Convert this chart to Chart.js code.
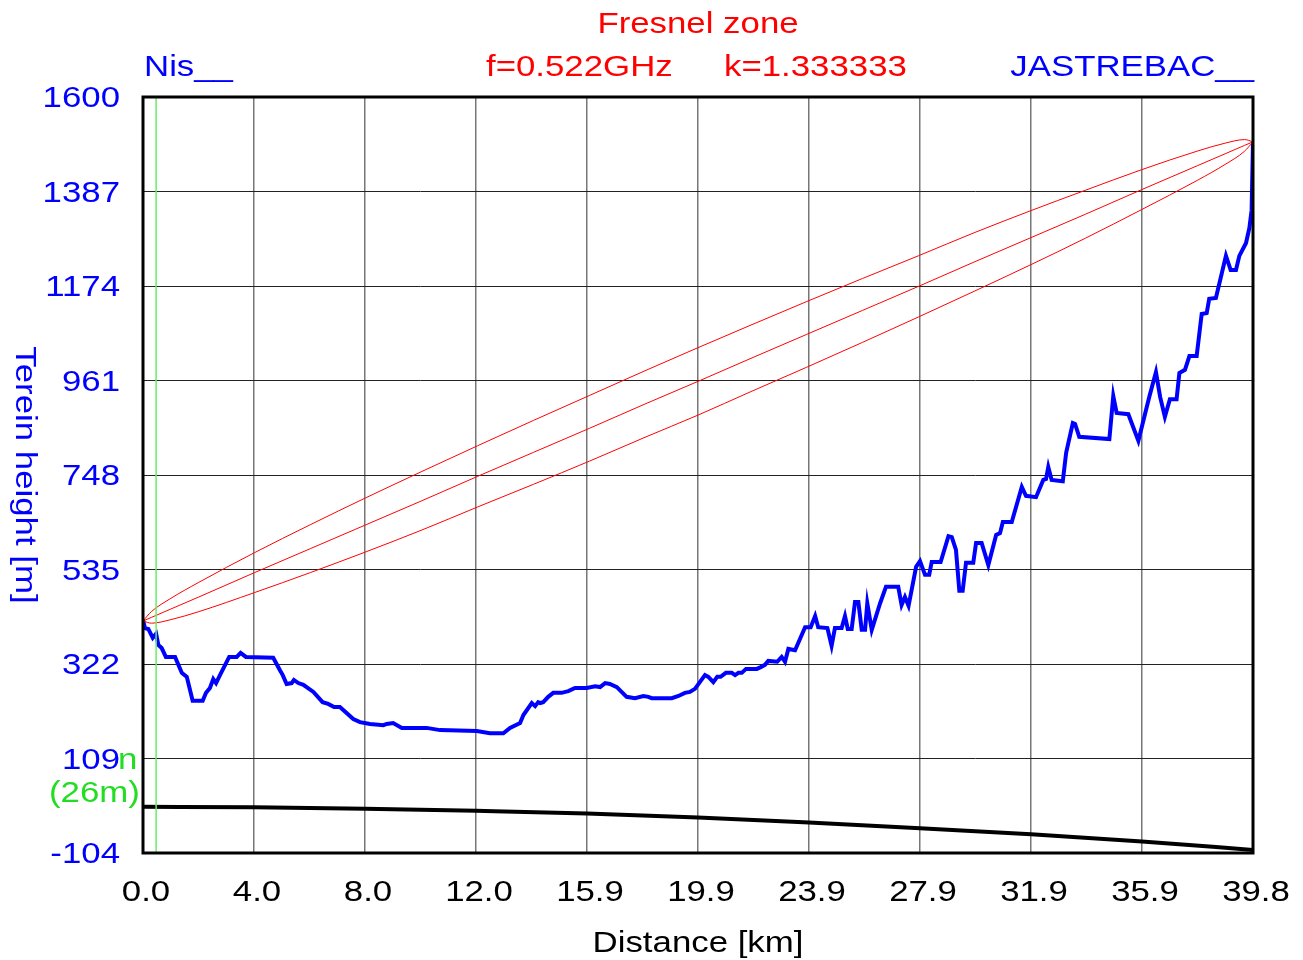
<!DOCTYPE html>
<html>
<head>
<meta charset="utf-8">
<script src="https://cdn.jsdelivr.net/npm/chart.js@4"></script>
<style>
  body { margin: 0; background: #fff; }
  #wrap { width: 1303px; height: 960px; }
</style>
</head>
<body>
<div id="wrap"><canvas id="profileChart" width="1303" height="960"></canvas></div>
<script>
// terrain profile (km, m)
const terrainKm = [0, 0.07, 0.19, 0.35, 0.47, 0.55, 0.67, 0.82, 1.15, 1.39, 1.57, 1.78, 2.14, 2.26, 2.40, 2.52, 2.62, 2.76, 3.09, 3.36, 3.50, 3.69, 4.67, 4.91, 5.01, 5.15, 5.33, 5.41, 5.57, 5.75, 6.11, 6.44, 6.64, 6.85, 7.06, 7.54, 7.78, 8.14, 8.62, 8.74, 8.97, 9.28, 10.17, 10.65, 11.97, 12.44, 12.92, 13.16, 13.52, 13.64, 13.94, 14.06, 14.17, 14.24, 14.35, 14.53, 14.71, 15.01, 15.25, 15.49, 15.91, 16.21, 16.39, 16.57, 16.74, 16.99, 17.34, 17.64, 17.94, 18.12, 18.24, 18.96, 19.20, 19.43, 19.61, 19.79, 20.15, 20.27, 20.45, 20.59, 20.71, 20.90, 21.11, 21.23, 21.35, 21.47, 21.62, 22.01, 22.15, 22.30, 22.42, 22.74, 22.90, 23.02, 23.14, 23.38, 23.74, 23.94, 24.10, 24.21, 24.54, 24.69, 24.81, 25.05, 25.17, 25.27, 25.41, 25.53, 25.65, 25.77, 25.89, 25.97, 26.13, 26.43, 26.64, 27.08, 27.20, 27.32, 27.45, 27.72, 27.86, 28.04, 28.19, 28.28, 28.60, 28.88, 29.00, 29.15, 29.27, 29.39, 29.51, 29.77, 29.87, 30.07, 30.31, 30.59, 30.73, 30.83, 31.15, 31.51, 31.66, 32.02, 32.28, 32.38, 32.46, 32.58, 32.98, 33.10, 33.34, 33.42, 33.57, 34.65, 34.79, 34.91, 35.33, 35.69, 36.08, 36.32, 36.47, 36.64, 36.82, 37.06, 37.16, 37.36, 37.52, 37.78, 37.96, 38.14, 38.23, 38.47, 38.83, 39.00, 39.19, 39.31, 39.55, 39.67, 39.75, 39.80];
const terrainM = [421, 403, 401, 381, 390, 365, 358, 338, 338, 302, 293, 239, 239, 257, 268, 288, 279, 297, 338, 338, 347, 338, 336, 308, 297, 277, 279, 286, 279, 275, 259, 236, 232, 225, 225, 198, 191, 187, 184, 187, 189, 178, 178, 173, 171, 166, 166, 178, 189, 207, 234, 227, 236, 234, 236, 248, 257, 257, 261, 268, 268, 272, 270, 279, 277, 270, 248, 245, 250, 248, 245, 245, 250, 257, 259, 266, 297, 293, 281, 293, 293, 302, 302, 297, 302, 302, 311, 311, 315, 320, 329, 327, 338, 327, 356, 353, 405, 405, 430, 405, 403, 363, 403, 403, 430, 401, 401, 462, 462, 399, 399, 459, 399, 459, 496, 496, 455, 473, 453, 541, 554, 523, 523, 552, 552, 610, 608, 579, 487, 487, 550, 550, 595, 595, 545, 613, 617, 642, 642, 721, 701, 698, 737, 739, 766, 737, 734, 798, 865, 863, 834, 829, 926, 888, 885, 825, 924, 980, 924, 879, 919, 919, 978, 985, 1016, 1016, 1111, 1113, 1145, 1147, 1242, 1210, 1210, 1242, 1271, 1305, 1345, 1499];

// earth bulge line
const earthKm = [0, 3.98, 7.96, 11.94, 15.92, 19.9, 23.88, 27.86, 31.84, 35.82, 39.8];
const earthM = [0, -1, -4, -9, -15, -24, -35, -48, -62, -78, -97];

// fresnel zone: line of sight and ellipse edges
const fresnelKm = [0, 0.3, 1, 2, 4, 6, 8, 10, 12, 14, 16, 18, 19.9, 21.8, 23.8, 25.8, 27.8, 29.8, 31.8, 33.8, 35.8, 37.8, 38.8, 39.5, 39.8];
const fresnelMid = [419, 427, 446, 473, 528, 582, 636, 690, 745, 799, 853, 908, 959, 1011, 1065, 1119, 1173, 1228, 1282, 1336, 1391, 1445, 1472, 1491, 1499];
const fresnelTop = [419, 440, 470, 506, 573, 636, 697, 756, 814, 871, 927, 983, 1035, 1086, 1139, 1191, 1242, 1294, 1343, 1390, 1436, 1478, 1496, 1504, 1499];
const fresnelBottom = [419, 414, 422, 440, 483, 528, 575, 624, 676, 727, 779, 833, 883, 936, 991, 1047, 1104, 1162, 1221, 1282, 1346, 1412, 1448, 1478, 1499];

// green marker
const markerKm = [0.47, 0.47];
const markerM = [-104, 1600];

// axes
const xTickValues = [0, 3.98, 7.96, 11.94, 15.92, 19.9, 23.88, 27.86, 31.84, 35.82, 39.8];
const xTickLabels = ['0.0', '4.0', '8.0', '12.0', '15.9', '19.9', '23.9', '27.9', '31.9', '35.9', '39.8'];
const yTickValues = [-104, 109, 322, 535, 748, 961, 1174, 1387, 1600];
const yTickLabels = ['-104', '109', '322', '535', '748', '961', '1174', '1387', '1600'];

const FONT = '"Liberation Sans", Arial, sans-serif';
const SIZE = 29;
const SX = 1.2;

function pts(xs, ys) {
    return xs.map((x, i) => ({ x: x, y: ys[i] }));
}

function drawText(ctx, str, x, y, color, align) {
    ctx.save();
    ctx.font = SIZE + 'px ' + FONT;
    ctx.fillStyle = color;
    ctx.textBaseline = 'middle';
    ctx.textAlign = 'left';
    const w = ctx.measureText(str).width * SX;
    let left = x;
    if (align === 'right') left = x - w;
    if (align === 'center') left = x - w / 2;
    // small nudge: the reference text sits a little lower than canvas 'middle'
    ctx.translate(left, y + 2);
    ctx.scale(SX, 1);
    ctx.fillText(str, 0, 0);
    ctx.restore();
}

const decorations = {
    id: 'decorations',
    afterDraw(chart) {
        const ctx = chart.ctx;
        const area = chart.chartArea;
        const xs = chart.scales.x;
        const ys = chart.scales.y;

        // frame
        ctx.save();
        ctx.strokeStyle = '#000';
        ctx.lineWidth = 3;
        ctx.strokeRect(area.left, area.top, area.right - area.left, area.bottom - area.top);
        ctx.restore();

        yTickValues.forEach((v, i) => {
            drawText(ctx, yTickLabels[i], 120, ys.getPixelForValue(v), '#0000ff', 'right');
        });
        xTickValues.forEach((v, i) => {
            drawText(ctx, xTickLabels[i], xs.getPixelForValue(v) + 3, 891, '#000', 'center');
        });

        drawText(ctx, 'n', 118, ys.getPixelForValue(109), '#22dd22', 'left');
        drawText(ctx, '(26m)', 49, 792, '#22dd22', 'left');

        drawText(ctx, 'Fresnel zone', 698, 23, '#ff0000', 'center');
        drawText(ctx, 'Nis__', 144, 66, '#0000ff', 'left');
        drawText(ctx, 'f=0.522GHz', 486, 66, '#ff0000', 'left');
        drawText(ctx, 'k=1.333333', 724, 66, '#ff0000', 'left');
        drawText(ctx, 'JASTREBAC__', 1254, 66, '#0000ff', 'right');
        drawText(ctx, 'Distance [km]', 698, 942, '#000', 'center');

        // y axis title, reading top to bottom
        ctx.save();
        ctx.font = SIZE + 'px ' + FONT;
        ctx.fillStyle = '#0000ff';
        ctx.textAlign = 'center';
        ctx.textBaseline = 'middle';
        ctx.translate(24, 475);
        ctx.rotate(Math.PI / 2);
        ctx.scale(SX, 1);
        ctx.fillText('Terein height [m]', 0, 0);
        ctx.restore();
    }
};

const ctx = document.getElementById('profileChart').getContext('2d');

new Chart(ctx, {
    type: 'scatter',
    data: {
        datasets: [
            {
                label: 'marker',
                data: pts(markerKm, markerM),
                showLine: true,
                borderColor: '#66ee66',
                borderWidth: 1.5,
                pointRadius: 0
            },
            {
                label: 'Fresnel top',
                data: pts(fresnelKm, fresnelTop),
                showLine: true,
                borderColor: '#ff0000',
                borderWidth: 1,
                pointRadius: 0,
                cubicInterpolationMode: 'monotone'
            },
            {
                label: 'Line of sight',
                data: pts(fresnelKm, fresnelMid),
                showLine: true,
                borderColor: '#ff0000',
                borderWidth: 1,
                pointRadius: 0
            },
            {
                label: 'Fresnel bottom',
                data: pts(fresnelKm, fresnelBottom),
                showLine: true,
                borderColor: '#ff0000',
                borderWidth: 1,
                pointRadius: 0,
                cubicInterpolationMode: 'monotone'
            },
            {
                label: 'Earth',
                data: pts(earthKm, earthM),
                showLine: true,
                borderColor: '#000',
                borderWidth: 4,
                pointRadius: 0,
                cubicInterpolationMode: 'monotone'
            },
            {
                label: 'Terrain',
                data: pts(terrainKm, terrainM),
                showLine: true,
                borderColor: '#0000ff',
                borderWidth: 4,
                pointRadius: 0
            }
        ]
    },
    options: {
        responsive: false,
        animation: false,
        layout: {
            padding: { left: 143, right: 50, top: 97, bottom: 107 }
        },
        plugins: {
            legend: { display: false },
            tooltip: { enabled: false }
        },
        scales: {
            x: {
                type: 'linear',
                min: 0,
                max: 39.8,
                afterBuildTicks: scale => {
                    scale.ticks = xTickValues.map(v => ({ value: v }));
                },
                ticks: { display: false },
                border: { display: false },
                grid: { color: '#777', lineWidth: 1.5, drawTicks: false }
            },
            y: {
                min: -104,
                max: 1600,
                afterBuildTicks: scale => {
                    scale.ticks = yTickValues.map(v => ({ value: v }));
                },
                ticks: { display: false },
                border: { display: false },
                grid: { color: '#222', lineWidth: 1, drawTicks: false }
            }
        }
    },
    plugins: [decorations]
});
</script>
</body>
</html>
